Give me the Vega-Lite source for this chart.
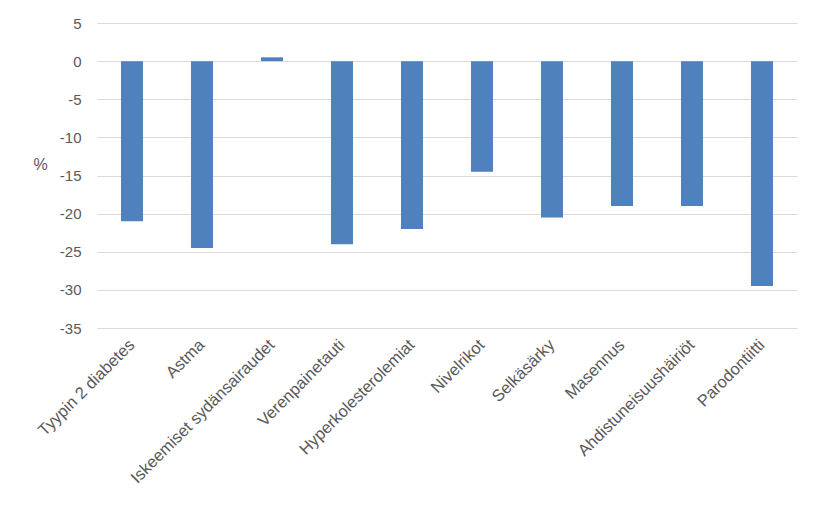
{
  "$schema": "https://vega.github.io/schema/vega-lite/v6.json",
  "autosize": "none",
  "width": 700,
  "height": 305,
  "padding": {"left": 97, "top": 23, "right": 23, "bottom": 186},
  "background": "white",
  "config": {"view": {"stroke": null}, "font": "Liberation Sans"},
  "data": {"values": [
    {"sairaus": "Tyypin 2 diabetes", "arvo": -21},
    {"sairaus": "Astma", "arvo": -24.5},
    {"sairaus": "Iskeemiset sydänsairaudet", "arvo": 0.5},
    {"sairaus": "Verenpainetauti", "arvo": -24},
    {"sairaus": "Hyperkolesterolemiat", "arvo": -22},
    {"sairaus": "Nivelrikot", "arvo": -14.5},
    {"sairaus": "Selkäsärky", "arvo": -20.5},
    {"sairaus": "Masennus", "arvo": -19},
    {"sairaus": "Ahdistuneisuushäiriöt", "arvo": -19},
    {"sairaus": "Parodontiitti", "arvo": -29.5}
  ]},
  "mark": {"type": "bar", "color": "#4f81bd"},
  "encoding": {
    "x": {
      "field": "sairaus", "type": "nominal", "sort": null,
      "scale": {"paddingInner": 0.686, "paddingOuter": 0.343},
      "axis": {
        "title": null, "labelAngle": -45, "labelAlign": "right", "labelBaseline": "middle",
        "labelFontSize": 16.5, "labelColor": "#595959", "labelPadding": 14,
        "ticks": false, "domain": false, "labelLimit": 300, "labelOverlap": false
      }
    },
    "y": {
      "field": "arvo", "type": "quantitative",
      "scale": {"domain": [-35, 5], "nice": false},
      "axis": {
        "title": "%", "titleAngle": 0, "titleFontSize": 16, "titleFontWeight": "normal",
        "titleColor": "#595959", "titleX": -57, "titleY": 149, "titleAlign": "center",
        "values": [5, 0, -5, -10, -15, -20, -25, -30, -35],
        "labelExpr": "'' + datum.value",
        "labelFontSize": 15, "labelColor": "#595959", "labelPadding": 16,
        "ticks": false, "domain": false, "gridColor": "#d9d9d9", "gridWidth": 1
      }
    }
  }
}
